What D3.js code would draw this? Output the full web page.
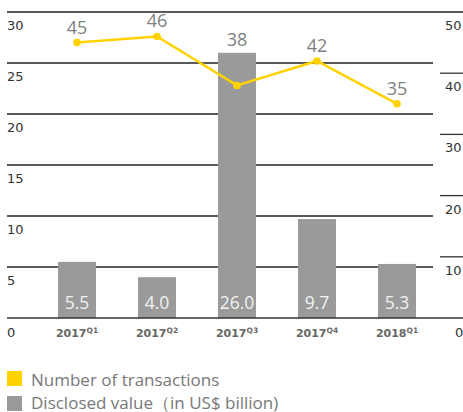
<!DOCTYPE html>
<html>
<head>
<meta charset="utf-8">
<script src="https://cdn.jsdelivr.net/npm/d3@7"></script>
<style>
  body { margin: 0; background: #fff; }
  svg { display: block; }
</style>
</head>
<body>
<div id="chart"></div>
<script>
// Data
const quarters = ["2017", "2017", "2017", "2017", "2018"];
const quarterSup = ["Q1", "Q2", "Q3", "Q4", "Q1"];
const disclosedValue = [5.5, 4.0, 26.0, 9.7, 5.3];
const transactions = [45, 46, 38, 42, 35];
const leftTicks = [5, 10, 15, 20, 25, 30];
const rightTicks = [10, 20, 30, 40, 50];

const width = 463, height = 412;
const yellow = "#ffd200", barGrey = "#999a99", textGrey = "#787878";
const tickFont = "DejaVu Sans, sans-serif";
const labelFont = "Open Sans, sans-serif";

const svg = d3.select("#chart").append("svg")
    .attr("width", width)
    .attr("height", height);

const ids = quarters.map((q, i) => i);

// Scales
const x = d3.scaleBand()
    .domain(ids)
    .range([37, 437])
    .paddingInner(0.525)
    .paddingOuter(0.2625);

const yLeft = d3.scaleLinear().domain([0, 30]).range([318, 12]);
const yRight = d3.scaleLinear().domain([0, 50]).range([318, 12]);
const cx = i => x(i) + x.bandwidth() / 2;

// Gridlines for left axis
svg.append("g").selectAll("line")
    .data(leftTicks)
    .join("line")
    .attr("x1", 7)
    .attr("x2", d => d === 30 ? width : 433)
    .attr("y1", d => yLeft(d))
    .attr("y2", d => yLeft(d))
    .attr("stroke", "#222")
    .attr("stroke-width", 1.3);

// Short ticks on the right axis
svg.append("g").selectAll("line")
    .data(rightTicks.filter(d => d !== 50))
    .join("line")
    .attr("x1", 440)
    .attr("x2", width)
    .attr("y1", d => yRight(d))
    .attr("y2", d => yRight(d))
    .attr("stroke", "#333")
    .attr("stroke-width", 1.3);

// Left tick labels
svg.append("g").selectAll("text")
    .data(leftTicks)
    .join("text")
    .attr("x", 7)
    .attr("y", d => yLeft(d) + 18)
    .style("font-family", tickFont)
    .style("font-size", "13px")
    .attr("fill", "#333")
    .text(d => d);

// Right tick labels
svg.append("g").selectAll("text")
    .data(rightTicks)
    .join("text")
    .attr("x", 445)
    .attr("y", d => yRight(d) + 18)
    .style("font-family", tickFont)
    .style("font-size", "13px")
    .attr("fill", "#333")
    .text(d => d);

// Zero labels
svg.append("text").attr("x", 7).attr("y", 337)
    .style("font-family", tickFont).style("font-size", "13px").attr("fill", "#333").text("0");
svg.append("text").attr("x", 455).attr("y", 337)
    .style("font-family", tickFont).style("font-size", "13px").attr("fill", "#333").text("0");

// Bars
svg.append("g").selectAll("rect")
    .data(disclosedValue)
    .join("rect")
    .attr("x", (d, i) => x(i))
    .attr("y", d => yLeft(d))
    .attr("width", x.bandwidth())
    .attr("height", d => yLeft(0) - yLeft(d))
    .attr("fill", barGrey);

// Baseline
svg.append("line")
    .attr("x1", 7).attr("x2", width)
    .attr("y1", yLeft(0)).attr("y2", yLeft(0))
    .attr("stroke", "#333").attr("stroke-width", 1.3);

// Bar value labels
svg.append("g").selectAll("text")
    .data(disclosedValue)
    .join("text")
    .attr("x", (d, i) => cx(i))
    .attr("y", 309)
    .attr("text-anchor", "middle")
    .style("font-family", labelFont)
    .style("font-size", "17.5px")
    .attr("fill", "#f2f2f2")
    .text(d => d.toFixed(1));

// Line for number of transactions
const line = d3.line()
    .x((d, i) => cx(i))
    .y(d => yRight(d));

svg.append("path")
    .datum(transactions)
    .attr("d", line)
    .attr("fill", "none")
    .attr("stroke", yellow)
    .attr("stroke-width", 2.5);

svg.append("g").selectAll("circle")
    .data(transactions)
    .join("circle")
    .attr("cx", (d, i) => cx(i))
    .attr("cy", d => yRight(d))
    .attr("r", 3.8)
    .attr("fill", yellow);

// labels sit above the point, or above the bar when the bar is taller
svg.append("g").selectAll("text")
    .data(transactions)
    .join("text")
    .attr("x", (d, i) => cx(i))
    .attr("y", (d, i) => Math.min(yRight(d), yLeft(disclosedValue[i]) + 2) - 9)
    .attr("text-anchor", "middle")
    .style("font-family", labelFont)
    .style("font-size", "18px")
    .attr("fill", "#808080")
    .text(d => d);

// Category labels with superscript quarter
const cat = svg.append("g").selectAll("text")
    .data(ids)
    .join("text")
    .attr("x", i => cx(i))
    .attr("y", 337)
    .attr("text-anchor", "middle")
    .style("font-family", tickFont)
    .style("font-size", "11px")
    .style("font-weight", "bold")
    .attr("fill", "#666");
cat.append("tspan").text(i => quarters[i]);
cat.append("tspan")
    .attr("dy", -4)
    .style("font-size", "7.5px")
    .text(i => quarterSup[i]);

// Legend
const legendItems = [
    { label: "Number of transactions", color: yellow, y: 371, ty: 385.5 },
    { label: "Disclosed value（in US$ billion)", color: barGrey, y: 396, ty: 408.5 }
];
const legend = svg.append("g").selectAll("g")
    .data(legendItems)
    .join("g");
legend.append("rect")
    .attr("x", 7).attr("y", d => d.y)
    .attr("width", 15).attr("height", 15)
    .attr("fill", d => d.color);
legend.append("text")
    .attr("x", 31).attr("y", d => d.ty)
    .style("font-family", labelFont)
    .style("font-size", "17px")
    .attr("fill", textGrey)
    .text(d => d.label);
</script>
</body>
</html>
